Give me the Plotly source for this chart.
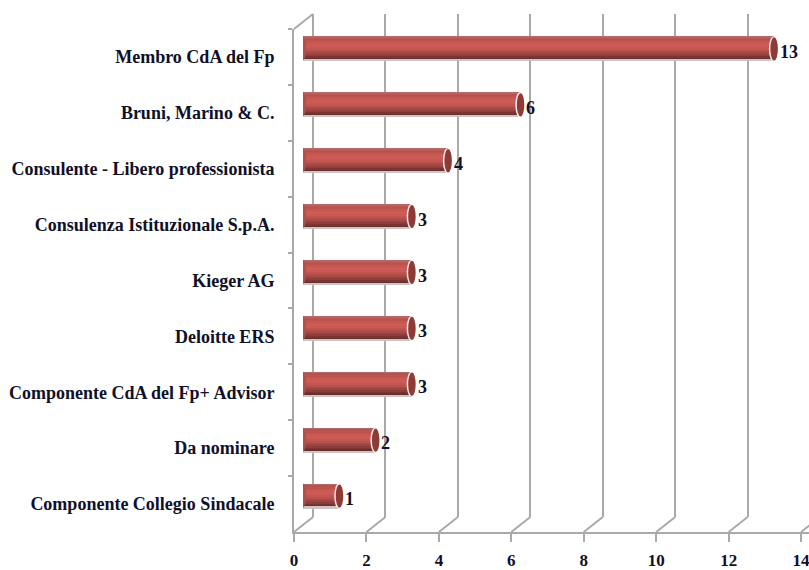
import plotly.graph_objects as go

categories = ["Membro CdA del Fp", "Bruni, Marino & C.", "Consulente - Libero professionista",
              "Consulenza Istituzionale S.p.A.", "Kieger AG", "Deloitte ERS",
              "Componente CdA del Fp+ Advisor", "Da nominare", "Componente Collegio Sindacale"]
values = [13, 6, 4, 3, 3, 3, 3, 2, 1]
x_ticks = [0, 2, 4, 6, 8, 10, 12, 14]
band_colors = ["#b36a66", "#b5544f", "#be524d", "#c75752", "#cb5a54", "#cc5c56", "#c95a54", "#c35652",
               "#b9514c", "#ab4b47", "#9b4441", "#8a3d3a", "#783533", "#6b302e", "#cfc4c3"]

W, H = 809, 570
ML, MR, MT, MB = 294, 0, 14, 38
PW, PH = W - ML - MR, H - MT - MB
UNIT = 36.22
DX, DY = 19, 15
BX, BY = 9, 8
ROW = (PH - DY) / len(categories)
BAR_H = 25 / ROW
GREY = "#a9a9a9"
FONT = dict(family="Liberation Serif", size=18, color="#101028", weight=700)

fig = go.Figure()

# back wall subplot (gridlines)
fig.add_trace(go.Scatter(x=x_ticks, y=values[:8], mode="none", xaxis="x", yaxis="y", showlegend=False, hoverinfo="skip"))
# front axes subplot
fig.add_trace(go.Scatter(x=values, y=categories, mode="none", xaxis="x2", yaxis="y2", showlegend=False, hoverinfo="skip"))

# cylinders: nested horizontal bars give the vertical shading
n = len(band_colors)
for i, c in enumerate(band_colors):
    off = -BAR_H / 2 + BAR_H * i / n
    fig.add_trace(go.Bar(x=values, y=categories, orientation="h", xaxis="x3", yaxis="y3",
                         marker=dict(color=c, line=dict(width=0)),
                         width=BAR_H - BAR_H * i / n, offset=off,
                         showlegend=False, hoverinfo="skip"))

annotations = [dict(x=v, y=cat, xref="x3", yref="y3", text=str(v), showarrow=False, xanchor="left",
                    xshift=4, yshift=-3, font=dict(FONT, size=18))
               for cat, v in zip(categories, values)]

shapes = []
# depth diagonals
for v in x_ticks:
    shapes.append(dict(type="line", xref="paper", yref="paper",
                       x0=v * UNIT / PW, x1=(v * UNIT + DX) / PW, y0=0, y1=DY / PH,
                       line=dict(color=GREY, width=2), layer="below"))
shapes.append(dict(type="line", xref="paper", yref="paper", x0=0, x1=DX / PW,
                   y0=(PH - DY) / PH, y1=1, line=dict(color=GREY, width=2), layer="below"))

# cylinder end caps
for k, (cat, v) in enumerate(zip(categories, values)):
    # rounded base
    shapes.append(dict(type="circle", xref="x3", yref="y3", xsizemode="pixel", xanchor=0,
                       x0=-3, x1=3, y0=k - BAR_H / 2, y1=k + BAR_H / 2 - 0.02,
                       fillcolor="#b0504c", line=dict(width=0), layer="above"))
    # rim + dark cap
    shapes.append(dict(type="circle", xref="x3", yref="y3", xsizemode="pixel", xanchor=v,
                       x0=-5, x1=4, y0=k - BAR_H / 2, y1=k + BAR_H / 2,
                       fillcolor="#f4eeee", line=dict(width=0), layer="above"))
    shapes.append(dict(type="circle", xref="x3", yref="y3", xsizemode="pixel", xanchor=v,
                       x0=-3.5, x1=4, y0=k - BAR_H / 2 + 0.015, y1=k + BAR_H / 2 - 0.015,
                       fillcolor="#8e3b38", line=dict(width=0), layer="above"))

fig.update_layout(
    width=W, height=H,
    margin=dict(l=ML, r=MR, t=MT, b=MB, autoexpand=False),
    paper_bgcolor="white", plot_bgcolor="rgba(0,0,0,0)",
    barmode="overlay", bargap=0, showlegend=False,
    font=FONT, shapes=shapes, annotations=annotations,
    # back wall
    xaxis=dict(domain=[DX / PW, 1], range=[0, (PW - DX) / UNIT], tickvals=x_ticks, showgrid=True,
               gridcolor=GREY, gridwidth=2, showticklabels=False, ticks="", zeroline=True,
               zerolinecolor=GREY, zerolinewidth=2, showline=False),
    yaxis=dict(domain=[DY / PH, 1], range=[0, 1], visible=False),
    # front axes
    xaxis2=dict(domain=[0, 1], range=[0, PW / UNIT], tickvals=x_ticks, anchor="y2", showgrid=False,
                zeroline=False, showline=True, linecolor=GREY, linewidth=2, ticks="outside",
                ticklen=8, tickwidth=2, tickcolor=GREY, tickfont=dict(FONT, size=17), ticklabelstandoff=4,
                ticklabeloverflow="allow"),
    yaxis2=dict(domain=[0, (PH - DY) / PH], type="category", categoryorder="array", categoryarray=categories,
                range=[len(categories) - 0.5, -0.5], anchor="x2", showgrid=False, zeroline=False,
                showline=True, linecolor=GREY, linewidth=2, ticks="outside", tickson="boundaries",
                ticklen=4, tickwidth=2, tickcolor=GREY, tickfont=FONT, ticklabelstandoff=14),
    # cylinders
    xaxis3=dict(domain=[BX / PW, 1], range=[0, (PW - BX) / UNIT], anchor="y3", visible=False),
    yaxis3=dict(domain=[BY / PH, (PH - DY + BY) / PH], type="category", categoryorder="array",
                categoryarray=categories, range=[len(categories) - 0.5, -0.5], anchor="x3", visible=False),
)

fig.write_html("out.html", config=dict(displayModeBar=False),
               post_script="document.body.style.margin='0';document.documentElement.style.overflow='hidden';")
